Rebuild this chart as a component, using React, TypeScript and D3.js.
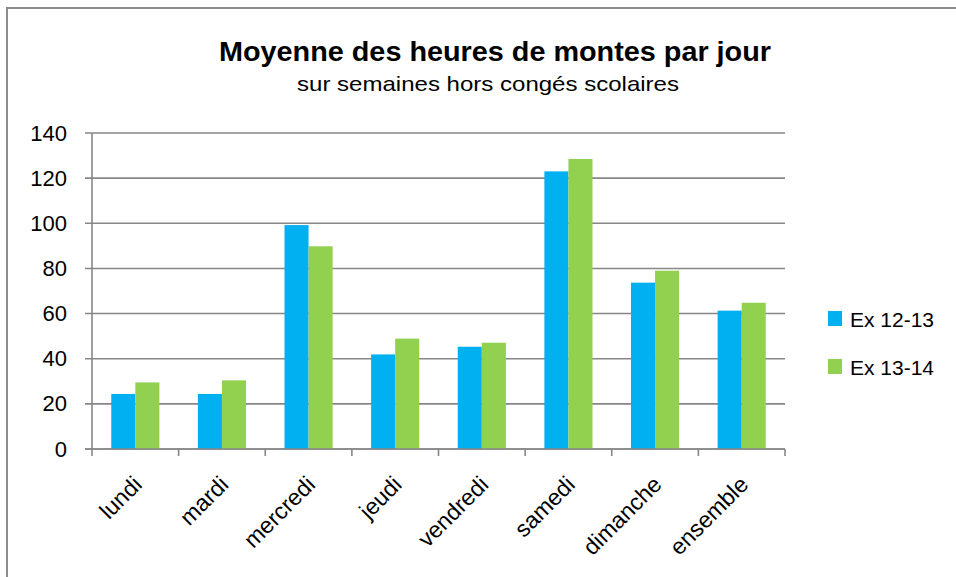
import * as d3 from "d3";

const days = ["lundi", "mardi", "mercredi", "jeudi", "vendredi", "samedi", "dimanche", "ensemble"];
const series = ["Ex 12-13", "Ex 13-14"];
const ex1213 = [24.4, 24.4, 99.2, 41.9, 45.3, 123, 73.7, 61.3];
const ex1314 = [29.5, 30.4, 89.8, 48.9, 47.1, 128.5, 79, 64.8];
const yTicks = [0, 20, 40, 60, 80, 100, 120, 140];

const colors: Record<string, string> = {
  "Ex 12-13": "#00B0F0",
  "Ex 13-14": "#92D050",
};

const font = "'Liberation Sans', Arial, sans-serif";

export default function App() {
  const width = 956;
  const height = 577;
  const left = 92;
  const right = 785;
  const top = 133;
  const bottom = 449;

  // Excel-ish clusters: two bars centred in each category band
  const x0 = d3.scaleBand().domain(days).range([left, right]).paddingInner(0);
  const x1 = d3.scaleBand().domain(series).range([0, x0.bandwidth()]).paddingOuter(0.8);
  const y = d3.scaleLinear().domain([0, 140]).range([bottom, top]);

  const values: Record<string, number[]> = {
    "Ex 12-13": ex1213,
    "Ex 13-14": ex1314,
  };

  const gridColor = "#878787";

  return (
    <svg
      width={width}
      height={height}
      style={{ position: "absolute", left: 0, top: 0, background: "#fff" }}
    >
      {/* cadre du graphique */}
      <rect x={7} y={8} width={1000} height={1000} fill="#fff" stroke="#8c8c8c" strokeWidth={2} />

      <text
        x={495}
        y={61}
        textAnchor="middle"
        fontFamily={font}
        fontWeight="bold"
        fontSize={27}
        textLength={552}
        lengthAdjust="spacingAndGlyphs"
      >
        Moyenne des heures de montes par jour
      </text>
      <text
        x={488}
        y={91}
        textAnchor="middle"
        fontFamily={font}
        fontSize={21}
        textLength={382}
        lengthAdjust="spacingAndGlyphs"
      >
        sur semaines hors congés scolaires
      </text>

      {/* grille horizontale */}
      {yTicks.map((t) => (
        <g key={t}>
          <line x1={left - 7} x2={right} y1={y(t)} y2={y(t)} stroke={gridColor} strokeWidth={1.6} />
          <text
            x={67}
            y={y(t)}
            textAnchor="end"
            dominantBaseline="central"
            fontFamily={font}
            fontSize={22}
          >
            {t}
          </text>
        </g>
      ))}

      {/* barres */}
      {days.map((d, i) => (
        <g key={d} transform={`translate(${x0(d)},0)`}>
          {series.map((s) => (
            <rect
              key={s}
              x={x1(s)}
              y={y(values[s][i])}
              width={x1.bandwidth()}
              height={y(0) - y(values[s][i])}
              fill={colors[s]}
            />
          ))}
        </g>
      ))}

      {/* axes */}
      <line x1={left} x2={left} y1={top} y2={bottom} stroke={gridColor} strokeWidth={1.6} />
      <line x1={left - 7} x2={right} y1={bottom} y2={bottom} stroke={gridColor} strokeWidth={1.6} />
      {days.map((d) => (
        <line key={d} x1={x0(d)} x2={x0(d)} y1={bottom} y2={bottom + 7} stroke={gridColor} strokeWidth={1.6} />
      ))}
      <line x1={right} x2={right} y1={bottom} y2={bottom + 7} stroke={gridColor} strokeWidth={1.6} />

      {days.map((d) => {
        const cx = (x0(d) ?? 0) + x0.bandwidth() / 2;
        return (
          <text
            key={d}
            transform={`translate(${cx + 8},${486}) rotate(-45)`}
            textAnchor="end"
            fontFamily={font}
            fontSize={23}
          >
            {d}
          </text>
        );
      })}

      {/* légende */}
      {series.map((s, i) => (
        <g key={s} transform={`translate(828,${311 + i * 48})`}>
          <rect width={14} height={15} fill={colors[s]} />
          <text x={22} y={16} fontFamily={font} fontSize={21}>
            {s}
          </text>
        </g>
      ))}
    </svg>
  );
}
